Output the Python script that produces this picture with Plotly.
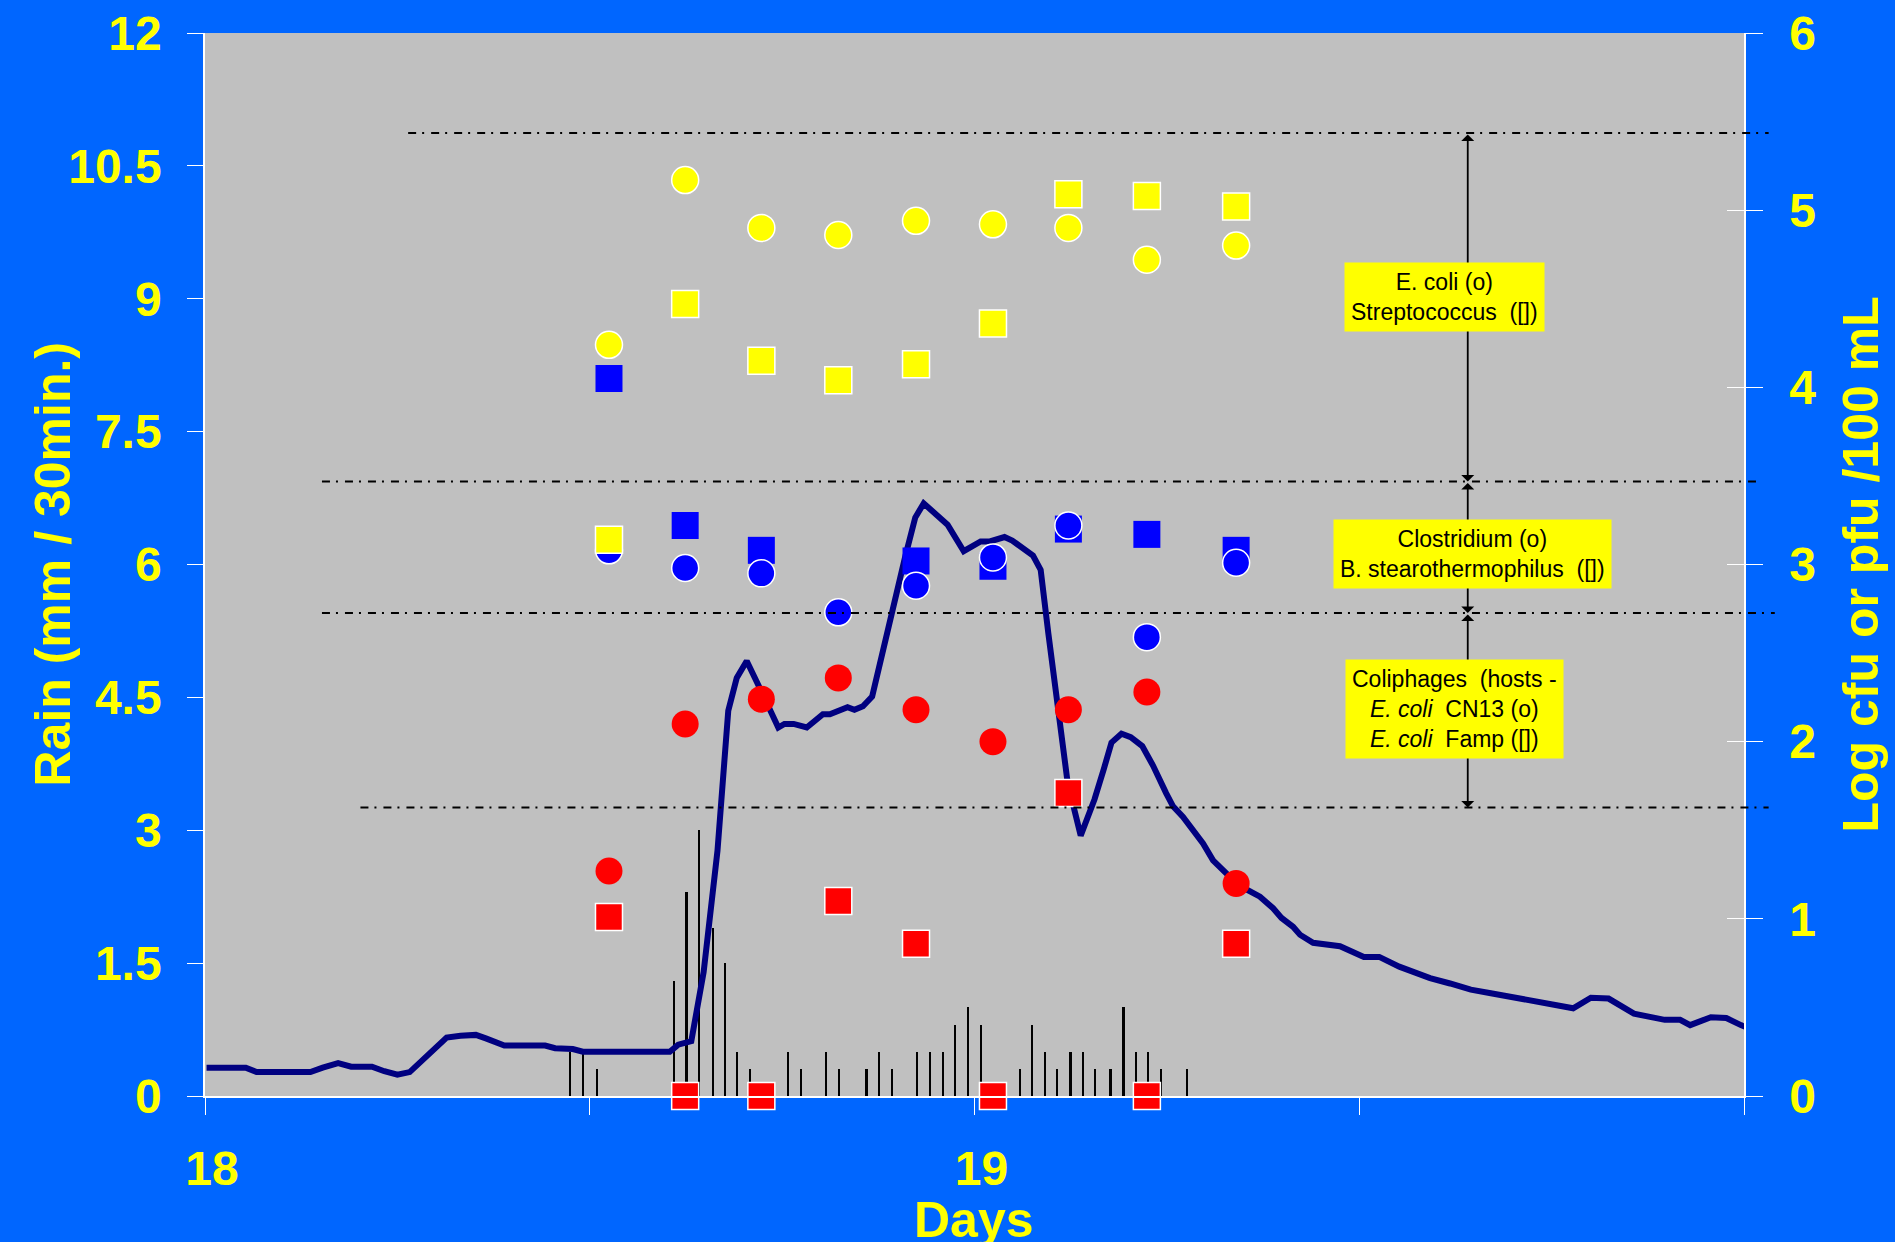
import plotly.graph_objects as go

# ---------------- data ----------------
sample_days = [18.525, 18.624, 18.723, 18.823, 18.924, 19.024, 19.122, 19.224, 19.340]
ecoli = [4.24, 5.17, 4.90, 4.86, 4.94, 4.92, 4.90, 4.72, 4.80]
streptococcus = [3.14, 4.47, 4.15, 4.04, 4.13, 4.36, 5.09, 5.08, 5.02]
clostridium = [3.08, 2.98, 2.95, 2.73, 2.88, 3.04, 3.22, 2.59, 3.01]
b_stearo = [4.05, 3.22, 3.08, None, 3.02, 2.99, 3.20, 3.17, 3.08]
coliphage_cn13 = [1.27, 2.10, 2.24, 2.36, 2.18, 2.00, 2.18, 2.28, 1.20]
coliphage_famp = [1.01, 0, 0, 1.10, 0.86, 0, 1.71, 0, 0.86]

rain_days = [18.475, 18.492, 18.510, 18.610, 18.626, 18.642, 18.660, 18.676, 18.692, 18.709,
             18.758, 18.775, 18.807, 18.824, 18.860, 18.876, 18.893, 18.926, 18.943, 18.959,
             18.975, 18.992, 19.009, 19.059, 19.075, 19.092, 19.108, 19.125, 19.141, 19.157,
             19.177, 19.194, 19.210, 19.226, 19.243, 19.276]
rain_mm = [0.5, 0.5, 0.3, 1.3, 2.3, 3.0, 1.9, 1.5, 0.5, 0.3,
           0.5, 0.3, 0.5, 0.3, 0.3, 0.5, 0.3, 0.5, 0.5, 0.5,
           0.8, 1.0, 0.8, 0.3, 0.8, 0.5, 0.3, 0.5, 0.5, 0.3,
           0.3, 1.0, 0.5, 0.5, 0.3, 0.3]

flow_days = [18.002, 18.053, 18.067, 18.137, 18.153, 18.173, 18.190, 18.217, 18.233, 18.250,
             18.266, 18.282, 18.299, 18.314, 18.332, 18.352, 18.365, 18.389, 18.442, 18.455,
             18.478, 18.491, 18.604, 18.615, 18.632, 18.648, 18.666, 18.680, 18.691, 18.704,
             18.724, 18.745, 18.753, 18.765, 18.782, 18.803, 18.812, 18.835, 18.844, 18.855,
             18.867, 18.888, 18.910, 18.923, 18.934, 18.965, 18.986, 19.008, 19.020, 19.039,
             19.049, 19.076, 19.086, 19.096, 19.110, 19.121, 19.138, 19.156, 19.168, 19.178,
             19.191, 19.203, 19.218, 19.232, 19.249, 19.258, 19.271, 19.284, 19.297, 19.310,
             19.321, 19.336, 19.354, 19.371, 19.388, 19.399, 19.414, 19.423, 19.440, 19.453,
             19.475, 19.506, 19.526, 19.552, 19.592, 19.618, 19.645, 19.671, 19.698, 19.731,
             19.751, 19.778, 19.801, 19.824, 19.857, 19.877, 19.897, 19.917, 19.930, 19.957,
             19.977, 19.996, 20.016]
flow_vals = [0.32, 0.32, 0.27, 0.27, 0.32, 0.37, 0.33, 0.33, 0.28, 0.24,
             0.27, 0.40, 0.53, 0.66, 0.68, 0.69, 0.65, 0.57, 0.57, 0.54,
             0.53, 0.50, 0.50, 0.58, 0.62, 1.40, 2.77, 4.35, 4.72, 4.91,
             4.55, 4.16, 4.20, 4.20, 4.16, 4.31, 4.31, 4.39, 4.36, 4.40,
             4.51, 5.30, 6.09, 6.53, 6.69, 6.45, 6.15, 6.26, 6.26, 6.31,
             6.27, 6.10, 5.94, 5.22, 4.30, 3.54, 2.94, 3.35, 3.69, 3.99,
             4.09, 4.05, 3.95, 3.73, 3.42, 3.27, 3.15, 3.00, 2.85, 2.66,
             2.57, 2.44, 2.33, 2.25, 2.12, 2.01, 1.91, 1.82, 1.73, 1.72,
             1.69, 1.57, 1.57, 1.46, 1.33, 1.27, 1.20, 1.16, 1.12, 1.065,
             1.03, 0.99, 1.11, 1.10, 0.93, 0.90, 0.86, 0.86, 0.80, 0.89,
             0.88, 0.80, 0.73]

x_tickvals = [18, 18.5, 19, 19.5, 20]
x_ticktext = ["18", "", "19", "", ""]

# group boundaries (log cfu scale) and label boxes
band_levels = [5.435, 3.468, 2.726, 1.628]
band_x0 = [0.132, 0.076, 0.076, 0.101]
band_x1 = [1.016, 1.010, 1.020, 1.016]
arrow_x = 19.641
box_texts = [
    "E. coli (o)<br>Streptococcus  ([])",
    "Clostridium (o)<br>B. stearothermophilus  ([])",
    "Coliphages  (hosts -<br><i>E. coli</i>  CN13 (o)<br><i>E. coli</i>  Famp ([])",
]
box_x = [0.8057, 0.8233, 0.8119]
box_y = [0.7517, 0.5099, 0.3641]

# ---------------- styling ----------------
BG = "#0066FF"
PLOT_BG = "#C0C0C0"
YEL = "#FFFF00"
FONT = "Arial, Liberation Sans, sans-serif"

fig = go.Figure()

fig.add_trace(go.Bar(x=rain_days, y=rain_mm, width=0.0022, marker=dict(color="black", line=dict(width=0)),
                     yaxis="y", name="Rain"))

def mk(y, symbol, color, outline):
    return go.Scatter(x=sample_days, y=y, mode="markers", yaxis="y2",
                      marker=dict(symbol=symbol, size=27, color=color,
                                  line=dict(color="white", width=1.5 if outline else 0)),
                      cliponaxis=False)

fig.add_trace(mk(coliphage_famp, "square", "#FF0000", True))
fig.add_trace(mk(coliphage_cn13, "circle", "#FF0000", False))
fig.add_trace(mk(b_stearo, "square", "#0000FF", False))
fig.add_trace(mk(clostridium, "circle", "#0000FF", True))
fig.add_trace(mk(ecoli, "circle", YEL, True))
fig.add_trace(mk(streptococcus, "square", YEL, True))

fig.add_trace(go.Scatter(x=flow_days, y=flow_vals, mode="lines", yaxis="y",
                         line=dict(color="#000080", width=6)))

shapes = []
for lvl, x0, x1 in zip(band_levels, band_x0, band_x1):
    yp = lvl / 6.0
    shapes.append(dict(type="line", xref="paper", yref="paper", x0=x0, x1=x1, y0=yp, y1=yp,
                       line=dict(color="black", width=2, dash="8px,6px,2px,7px"), layer="above"))

annotations = []
for a, b in zip(band_levels[:-1], band_levels[1:]):
    annotations.append(dict(x=arrow_x, y=b, ax=arrow_x, ay=a, xref="x", yref="y2", axref="x", ayref="y2",
                            text="", showarrow=True, arrowhead=1, startarrowhead=1, arrowside="end+start",
                            arrowsize=1.2, startarrowsize=1.2, arrowwidth=1.8, arrowcolor="black"))
for t, bx, by in zip(box_texts, box_x, box_y):
    annotations.append(dict(x=bx, y=by, xref="paper", yref="paper", xanchor="center", yanchor="middle",
                            text=t, showarrow=False, bgcolor=YEL, borderpad=6, align="center",
                            font=dict(family=FONT, size=23, color="black")))

title_font = dict(family=FONT, size=50, color=YEL, weight="bold")
annotations.append(dict(x=0.4995, y=-0.117, xref="paper", yref="paper", xanchor="center", yanchor="middle",
                        text="Days", showarrow=False, font=title_font))
annotations.append(dict(x=-0.0994, y=0.5, xref="paper", yref="paper", xanchor="center", yanchor="middle",
                        text="Rain (mm / 30min.)", textangle=-90, showarrow=False, font=title_font))
annotations.append(dict(x=1.076, y=0.5, xref="paper", yref="paper", xanchor="center", yanchor="middle",
                        text="Log cfu or pfu /100 mL", textangle=-90, showarrow=False, font=title_font))

tickfont = dict(family=FONT, size=48, color=YEL, weight="bold")

fig.update_layout(
    width=1895, height=1242,
    paper_bgcolor=BG, plot_bgcolor=PLOT_BG,
    margin=dict(l=205, r=151, t=33, b=146, autoexpand=False),
    showlegend=False, bargap=0,
    shapes=shapes, annotations=annotations,
    xaxis=dict(range=[18, 20], tickvals=x_tickvals, ticktext=x_ticktext, ticks="outside", ticklen=17,
               tickcolor="white", showline=True, linecolor="white", linewidth=1.5, showgrid=False,
               zeroline=False, tickfont=tickfont, ticklabelstandoff=13, ticklabelshift=7,
               automargin=False),
    yaxis=dict(range=[0, 12], dtick=1.5, tick0=0, ticks="outside", ticklen=16, tickcolor="white",
               showline=True, linecolor="white", linewidth=1.5, showgrid=False, zeroline=False,
               tickfont=tickfont, ticklabelstandoff=16, automargin=False),
    yaxis2=dict(range=[0, 6], dtick=1, tick0=0, overlaying="y", side="right", anchor="x",
                ticks="outside", ticklen=17, tickcolor="white", showline=True, linecolor="white",
                linewidth=1.5, showgrid=False, zeroline=False, tickfont=tickfont, ticklabelstandoff=17,
                automargin=False),
    yaxis3=dict(range=[0, 6], dtick=1, tick0=0, overlaying="y", side="right", anchor="x",
                ticks="inside", ticklen=17, tickcolor="white", showline=False, showgrid=False,
                zeroline=False, showticklabels=False, automargin=False),
)
fig.add_trace(go.Scatter(x=[None], y=[None], yaxis="y3", showlegend=False, hoverinfo="skip"))

fig.write_html("out.html", config={"displayModeBar": False},
               post_script="document.body.style.margin='0';document.body.style.padding='0';")
